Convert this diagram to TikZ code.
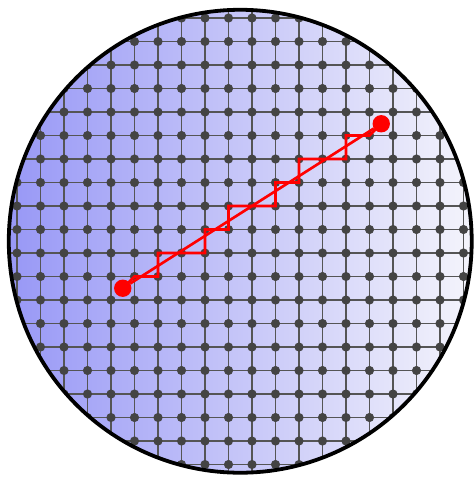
\documentclass[tikz,border=0pt]{standalone}
\usetikzlibrary{calc}
\definecolor{wfBlue}{HTML}{9898F6}
\definecolor{wfPale}{HTML}{F4F4FB}
\definecolor{wfGrid}{HTML}{555555}
\definecolor{wfDot}{HTML}{444444}
\definecolor{wfPath}{HTML}{FF0000}
\tikzset{
  gridline/.style={line width=1.9pt, wfGrid},
  gridpt/.style={circle, fill=wfDot, inner sep=0pt, minimum size=3.9mm},
  endpt/.style={circle, fill=wfPath, inner sep=0pt, minimum size=7.4mm},
  route/.style={line width=3.2pt, wfPath, line join=miter},
  rim/.style={line width=4.6pt, black}
}
\begin{document}
\begin{tikzpicture}
  \useasboundingbox (-0.7234,0.766) rectangle (19.489,-19.617);
  \coordinate (mid) at (9.5,-9.5);
  \begin{scope}
    \clip (mid) circle (9.85);
    \fill[left color=wfBlue, right color=wfPale] (mid) circle (9.85);
    % grid
    \foreach \k in {0,...,19} {
      \draw[gridline] (\k,1) -- (\k,-20);
      \draw[gridline] (-1,-\k) -- (20,-\k);
    }
    \foreach \i in {0,...,19}
      \foreach \j in {0,...,19}
        \node[gridpt] (g-\i-\j) at (\i,-\j) {};
  \end{scope}
  % route
  \node[endpt] (start) at (4.5,-11.5) {};
  \node[endpt] (goal) at (15.5,-4.5) {};
  \draw[route] (start) -- (goal);
  \draw[route] (start.center) -- (g-5-11.center) -- (g-6-11.center)
    -- (g-6-10.center) -- (g-8-10.center) -- (g-8-9.center) -- (g-9-9.center)
    -- (g-9-8.center) -- (g-11-8.center) -- (g-11-7.center) -- (g-12-7.center)
    -- (g-12-6.center) -- (g-14-6.center) -- (g-14-5.center) -- (g-15-5.center)
    -- (goal.center);
  \draw[rim] (mid) circle (9.85);
\end{tikzpicture}
\end{document}
